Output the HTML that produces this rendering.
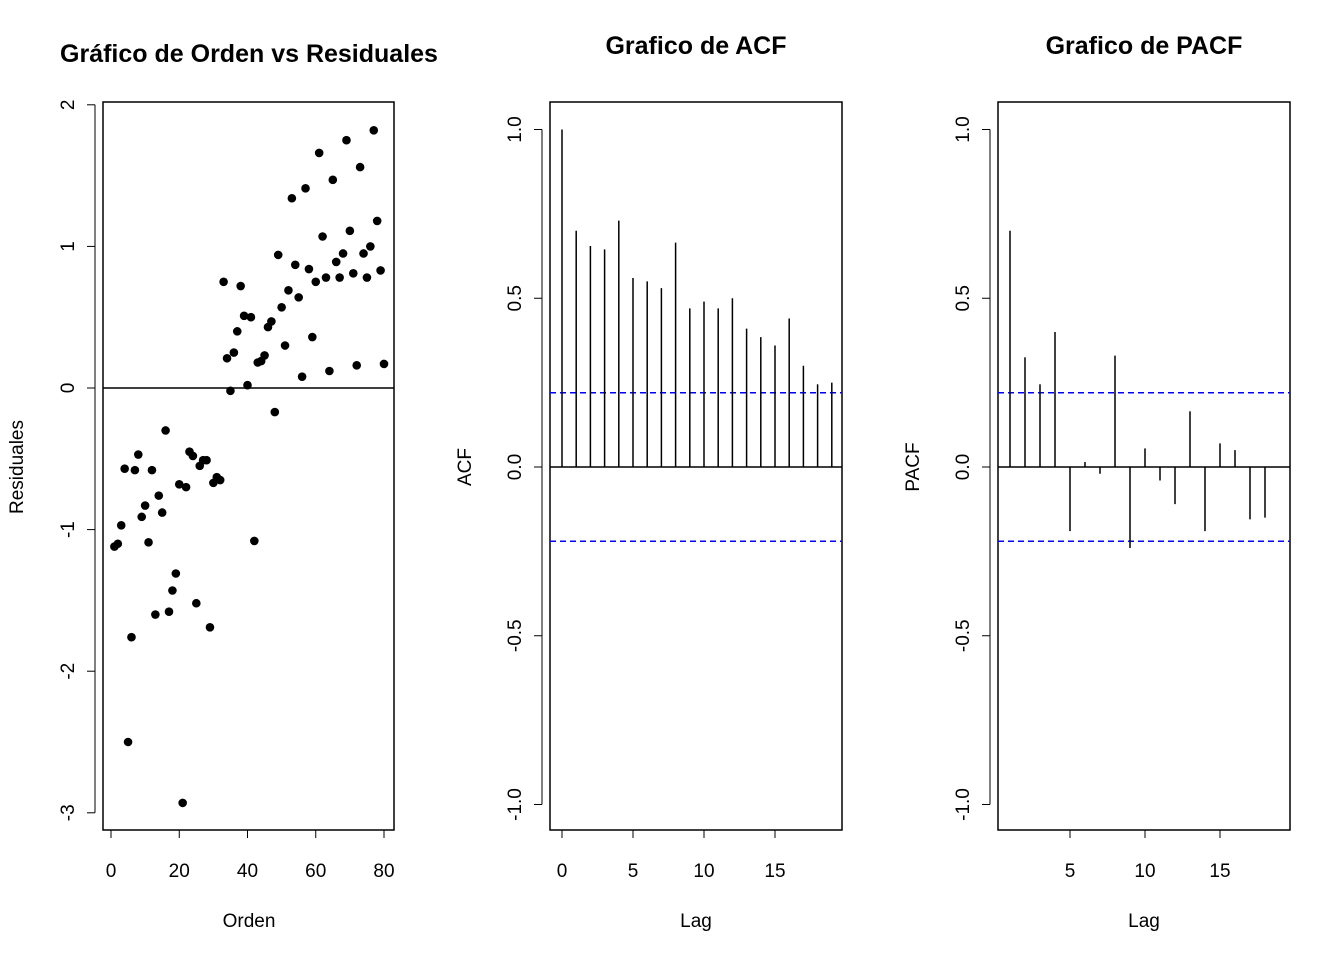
<!DOCTYPE html>
<html><head><meta charset="utf-8"><style>
html,body{margin:0;padding:0;background:#fff}
svg{display:block;font-family:"Liberation Sans",Arial,sans-serif}
</style></head><body>
<svg id="c" width="1344" height="960" xmlns="http://www.w3.org/2000/svg"></svg>
<script>
const resid=[-1.12,-1.10,-0.97,-0.57,-2.5,-1.76,-0.58,-0.47,-0.91,-0.83,-1.09,-0.58,-1.6,-0.76,-0.88,-0.3,-1.58,-1.43,-1.31,-0.68,-2.93,-0.7,-0.45,-0.48,-1.52,-0.55,-0.51,-0.51,-1.69,-0.67,-0.63,-0.65,0.75,0.21,-0.02,0.25,0.40,0.72,0.51,0.02,0.50,-1.08,0.18,0.19,0.23,0.43,0.47,-0.17,0.94,0.57,0.30,0.69,1.34,0.87,0.64,0.08,1.41,0.84,0.36,0.75,1.66,1.07,0.78,0.12,1.47,0.89,0.78,0.95,1.75,1.11,0.81,0.16,1.56,0.95,0.78,1.0,1.82,1.18,0.83,0.17];
const acfVals=[1.0,0.70,0.655,0.645,0.73,0.56,0.55,0.53,0.665,0.47,0.49,0.47,0.50,0.41,0.385,0.36,0.44,0.30,0.245,0.25];
const pacfVals=[0.70,0.325,0.245,0.40,-0.19,0.015,-0.02,0.33,-0.24,0.055,-0.04,-0.11,0.165,-0.19,0.07,0.05,-0.155,-0.15];
const ciBound=0.22;
const xTicks1=[0,20,40,60,80], yTicks1=[-3,-2,-1,0,1,2];
const acfXTicks=[0,5,10,15], pacfXTicks=[5,10,15], corTicks=[-1.0,-0.5,0.0,0.5,1.0];
const svg=document.getElementById('c');const NS='http://www.w3.org/2000/svg';
function el(t,a,txt){const e=document.createElementNS(NS,t);for(const k in a)e.setAttribute(k,a[k]);if(txt!==undefined)e.textContent=txt;svg.appendChild(e);return e;}
const X1=v=>111+v*3.4125, Y1=v=>388-v*141.6;
let e;
e=el('text',{x:249,y:62,'text-anchor':'middle','font-size':25,'font-weight':'bold'},'Gráfico de Orden vs Residuales');

e=el('rect',{x:103,y:102,width:291,height:728,fill:'none',stroke:'#000','stroke-width':1.5});

e=el('line',{x1:103,x2:394,y1:Y1(0),y2:Y1(0),stroke:'#000','stroke-width':1.5});

el('line',{x1:X1(0),x2:X1(80),y1:830,y2:830,stroke:'#000'});
xTicks1.forEach(t=>{el('line',{x1:X1(t),x2:X1(t),y1:830,y2:838,stroke:'#000'});
e=el('text',{x:X1(t),y:877,'text-anchor':'middle','font-size':19},t);});
el('line',{x1:95,x2:95,y1:Y1(-3),y2:Y1(2),stroke:'#000'});
yTicks1.forEach(t=>{el('line',{x1:87,x2:95,y1:Y1(t),y2:Y1(t),stroke:'#000'});
e=el('text',{x:74,y:Y1(t),'text-anchor':'middle','font-size':19,transform:`rotate(-90 74 ${Y1(t)})`},t);});
e=el('text',{x:249,y:927,'text-anchor':'middle','font-size':19},'Orden');
e=el('text',{x:23,y:467,'text-anchor':'middle','font-size':19,transform:'rotate(-90 23 467)'},'Residuales');
resid.forEach((v,i)=>{e=el('circle',{cx:X1(i+1),cy:Y1(v),r:4.3,fill:'#000'});});
function corPanel(x0,title,ytitle,vals,startLag,xs,ticks,name){
  const Y=v=>467-v*337.5;
  e=el('text',{x:(x0+x0+292)/2,y:54,'text-anchor':'middle','font-size':25,'font-weight':'bold'},title);
  
  e=el('rect',{x:x0,y:102,width:292,height:728,fill:'none',stroke:'#000','stroke-width':1.5});
  
  el('line',{x1:x0,x2:x0+292,y1:Y(0),y2:Y(0),stroke:'#000','stroke-width':1.5});
  [ciBound,-ciBound].forEach(b=>{e=el('line',{x1:x0,x2:x0+292,y1:Y(b),y2:Y(b),stroke:'#0000ff','stroke-width':1.5,'stroke-dasharray':'6,4'});
    });
  vals.forEach((v,i)=>{const x=xs(i+startLag);e=el('line',{x1:x,x2:x,y1:Y(0),y2:Y(v),stroke:'#000','stroke-width':1.5});
    });
  el('line',{x1:xs(ticks[0]),x2:xs(ticks[ticks.length-1]),y1:830,y2:830,stroke:'#000'});
  ticks.forEach(t=>{el('line',{x1:xs(t),x2:xs(t),y1:830,y2:838,stroke:'#000'});
    e=el('text',{x:xs(t),y:877,'text-anchor':'middle','font-size':19},t);});
  const ax=x0-8;
  el('line',{x1:ax,x2:ax,y1:Y(-1),y2:Y(1),stroke:'#000'});
  corTicks.forEach(t=>{el('line',{x1:ax-8,x2:ax,y1:Y(t),y2:Y(t),stroke:'#000'});
    const tx=ax-21;e=el('text',{x:tx,y:Y(t),'text-anchor':'middle','font-size':19,transform:`rotate(-90 ${tx} ${Y(t)})`},t.toFixed(1));
    });
  e=el('text',{x:x0+146,y:927,'text-anchor':'middle','font-size':19},'Lag');
  const yx=x0-79;e=el('text',{x:yx,y:467,'text-anchor':'middle','font-size':19,transform:`rotate(-90 ${yx} 467)`},ytitle);
  
}
corPanel(550,'Grafico de ACF','ACF',acfVals,0,l=>562+l*14.2,acfXTicks,'acf');
corPanel(998,'Grafico de PACF','PACF',pacfVals,1,l=>995+l*15,pacfXTicks,'pacf');
</script>
</body></html>
